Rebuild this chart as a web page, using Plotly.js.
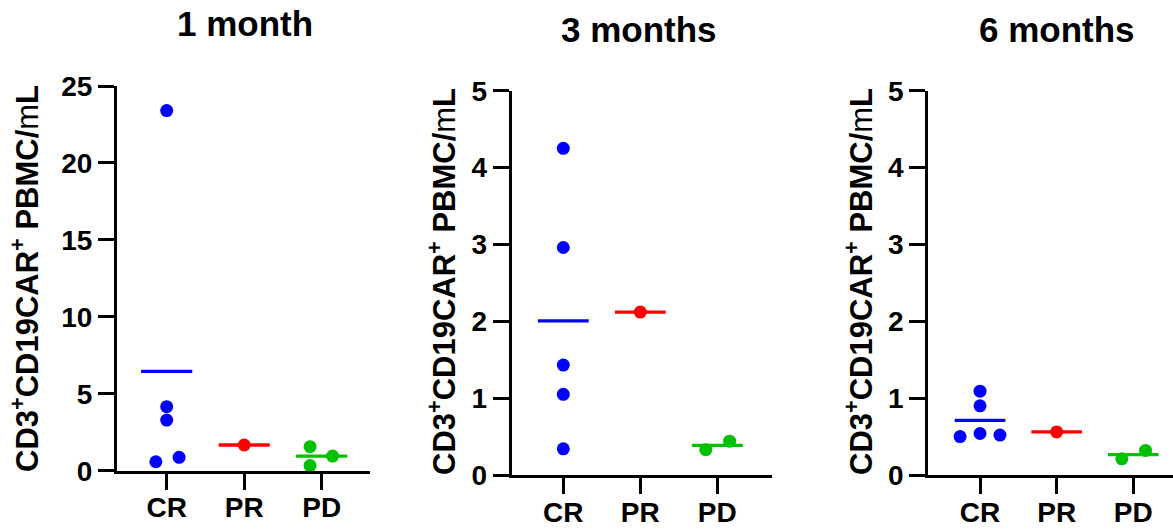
<!DOCTYPE html>
<html>
<head>
<meta charset="utf-8">
<script src="https://cdn.plot.ly/plotly-3.0.1.min.js"></script>
<style>html,body{margin:0;padding:0;background:#fff;}#chart{width:1173px;height:531px;}</style>
</head>
<body>
<div id="chart"></div>
<script>
// ---- data ----
const categories = ["CR", "PR", "PD"];
const panelTitles = ["1 month", "3 months", "6 months"];

const month1_CR = [23.4, 4.16, 3.29, 0.58, 0.87];
const month1_PR = [1.67];
const month1_PD = [1.56, 0.33, 0.95];

const month3_CR = [4.25, 2.96, 1.43, 1.05, 0.34];
const month3_PR = [2.12];
const month3_PD = [0.33, 0.44];

const month6_CR = [1.09, 0.90, 0.50, 0.54, 0.52];
const month6_PR = [0.56];
const month6_PD = [0.21, 0.32];

// horizontal jitter of points within a group (layout only)
const jit1_CR = [0, 0, 0, -0.14, 0.16];
const jit1_PR = [0];
const jit1_PD = [-0.15, -0.15, 0.14];
const jit3_CR = [0, 0, 0, 0, 0];
const jit3_PR = [0];
const jit3_PD = [-0.15, 0.16];
const jit6_CR = [0, 0, -0.26, 0, 0.26];
const jit6_PR = [0];
const jit6_PD = [-0.15, 0.16];

const yTicks1 = [0, 5, 10, 15, 20, 25];
const yTicks36 = [0, 1, 2, 3, 4, 5];

// ---- build ----
const colors = ["#0000FF", "#FF0000", "#00C000"];
const W = 1173, H = 531;
const panels = [
  {groups: [month1_CR, month1_PR, month1_PD], jit: [jit1_CR, jit1_PR, jit1_PD], yTicks: yTicks1,
   xPix: [117, 370], yPix: [470.7, 86], xr: [-0.641, 2.623], yr: [0, 25]},
  {groups: [month3_CR, month3_PR, month3_PD], jit: [jit3_CR, jit3_PR, jit3_PD], yTicks: yTicks36,
   xPix: [511.7, 772], xr: [-0.67, 2.71], yPix: [475, 90.7], yr: [0, 5]},
  {groups: [month6_CR, month6_PR, month6_PD], jit: [jit6_CR, jit6_PR, jit6_PD], yTicks: yTicks36,
   xPix: [928.3, 1173], xr: [-0.675, 2.518], yPix: [475, 90.7], yr: [0, 5]}
];

const mean = a => a.reduce((s, v) => s + v, 0) / a.length;
const traces = [];
const layout = {
  width: W, height: H,
  margin: {l: 0, r: 0, t: 0, b: 0},
  paper_bgcolor: "#fff", plot_bgcolor: "#fff",
  showlegend: false,
  font: {family: "Liberation Sans, Arial, sans-serif", color: "#000"},
  annotations: []
};
const halfW = 0.33;
const titlePos = [[245, 23], [639, 29], [1057, 29]];
const yTitlePos = [[25, 279], [442, 282], [859, 282]];

panels.forEach((p, i) => {
  const n = i === 0 ? "" : String(i + 1);
  const xa = "x" + n, ya = "y" + n;
  p.groups.forEach((g, k) => {
    const m = mean(g);
    traces.push({x: [k - halfW, k + halfW], y: [m, m], xaxis: xa, yaxis: ya, mode: "lines",
      line: {color: colors[k], width: 3.3}, hoverinfo: "skip", cliponaxis: false});
  });
  p.groups.forEach((g, k) => {
    traces.push({x: g.map((v, j) => k + p.jit[k][j]), y: g, xaxis: xa, yaxis: ya, mode: "markers",
      marker: {color: colors[k], size: 13}, cliponaxis: false});
  });
  const axFont = {family: "Liberation Sans, Arial, sans-serif", size: 28, color: "#000", weight: "bold"};
  layout["xaxis" + n] = {
    domain: [p.xPix[0] / W, p.xPix[1] / W], range: p.xr, anchor: ya,
    tickmode: "array", tickvals: [0, 1, 2], ticktext: categories,
    ticks: "outside", ticklen: 16, tickwidth: 3, tickcolor: "#000",
    ticklabelstandoff: -6,
    showline: true, linewidth: 3, linecolor: "#000", showgrid: false, zeroline: false,
    tickfont: axFont, fixedrange: true
  };
  layout["yaxis" + n] = {
    domain: [(H - p.yPix[0]) / H, (H - p.yPix[1]) / H], range: p.yr, anchor: xa,
    tickmode: "array", tickvals: p.yTicks, ticktext: p.yTicks.map(String),
    ticks: "outside", ticklen: 16, tickwidth: 3, tickcolor: "#000",
    showline: true, linewidth: 3, linecolor: "#000", showgrid: false, zeroline: false,
    tickfont: axFont, fixedrange: true
  };
  layout.annotations.push({
    text: "<b>" + panelTitles[i] + "</b>", xref: "paper", yref: "paper",
    x: titlePos[i][0] / W, y: (H - titlePos[i][1]) / H, xanchor: "center", yanchor: "middle",
    showarrow: false, font: {size: 35, color: "#000", family: "Liberation Sans, Arial, sans-serif"}
  });
  layout.annotations.push({
    text: "<b>CD3<sup>+</sup>CD19CAR<sup>+</sup> PBMC/</b>m<b>L</b>", xref: "paper", yref: "paper",
    x: yTitlePos[i][0] / W, y: (H - yTitlePos[i][1]) / H, xanchor: "center", yanchor: "middle",
    textangle: -90, showarrow: false,
    font: {size: 31, color: "#000", family: "Liberation Sans, Arial, sans-serif"}
  });
});

Plotly.newPlot("chart", traces, layout, {displayModeBar: false, staticPlot: true});
</script>
</body>
</html>
